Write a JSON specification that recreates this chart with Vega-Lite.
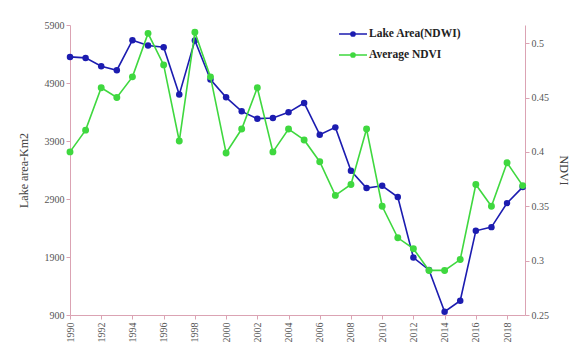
{
  "$schema": "https://vega.github.io/schema/vega-lite/v6.json",
  "width": 455,
  "height": 290,
  "autosize": "none",
  "padding": {"left": 70, "top": 25, "right": 45, "bottom": 37},
  "background": "white",
  "config": {
    "view": {"stroke": null},
    "font": "Liberation Serif",
    "axis": {
      "domainColor": "#dba3b3",
      "tickColor": "#dba3b3",
      "grid": false,
      "labelFont": "Liberation Serif",
      "labelFontSize": 10,
      "labelColor": "#555555",
      "titleFont": "Liberation Serif",
      "titleFontWeight": "normal",
      "titleColor": "#444444",
      "titleFontSize": 12,
      "tickSize": 4
    },
    "legend": {
      "orient": "none",
      "legendX": 268,
      "legendY": -6,
      "labelFont": "Liberation Serif",
      "labelFontWeight": "bold",
      "labelFontSize": 11.5,
      "labelColor": "#222222",
      "rowPadding": -9,
      "symbolSize": 784,
      "symbolStrokeWidth": 1.5,
      "labelOffset": 1,
      "symbolType": "M -1 0 L 1 0 M 0.15 0 A 0.15 0.15 0 1 1 -0.15 0 A 0.15 0.15 0 1 1 0.15 0 Z"
    }
  },
  "data": {
    "values": [
      {"year": 1990, "area": 5350, "ndvi": 0.400},
      {"year": 1991, "area": 5333, "ndvi": 0.420},
      {"year": 1992, "area": 5189, "ndvi": 0.459},
      {"year": 1993, "area": 5120, "ndvi": 0.450},
      {"year": 1994, "area": 5638, "ndvi": 0.469},
      {"year": 1995, "area": 5546, "ndvi": 0.509},
      {"year": 1996, "area": 5517, "ndvi": 0.480},
      {"year": 1997, "area": 4700, "ndvi": 0.410},
      {"year": 1998, "area": 5632, "ndvi": 0.510},
      {"year": 1999, "area": 4960, "ndvi": 0.469},
      {"year": 2000, "area": 4653, "ndvi": 0.399},
      {"year": 2001, "area": 4411, "ndvi": 0.421},
      {"year": 2002, "area": 4285, "ndvi": 0.459},
      {"year": 2003, "area": 4297, "ndvi": 0.400},
      {"year": 2004, "area": 4394, "ndvi": 0.421},
      {"year": 2005, "area": 4556, "ndvi": 0.411},
      {"year": 2006, "area": 4009, "ndvi": 0.391},
      {"year": 2007, "area": 4135, "ndvi": 0.360},
      {"year": 2008, "area": 3387, "ndvi": 0.370},
      {"year": 2009, "area": 3088, "ndvi": 0.421},
      {"year": 2010, "area": 3128, "ndvi": 0.350},
      {"year": 2011, "area": 2933, "ndvi": 0.321},
      {"year": 2012, "area": 1890, "ndvi": 0.311},
      {"year": 2013, "area": 1677, "ndvi": 0.291},
      {"year": 2014, "area": 957, "ndvi": 0.291},
      {"year": 2015, "area": 1147, "ndvi": 0.301},
      {"year": 2016, "area": 2351, "ndvi": 0.370},
      {"year": 2017, "area": 2415, "ndvi": 0.350},
      {"year": 2018, "area": 2829, "ndvi": 0.390},
      {"year": 2019, "area": 3105, "ndvi": 0.369}
    ]
  },
  "encoding": {
    "x": {
      "field": "year",
      "type": "quantitative",
      "scale": {"domain": [1990, 2019.15], "nice": false, "zero": false},
      "axis": {
        "values": [1990, 1992, 1994, 1996, 1998, 2000, 2002, 2004, 2006, 2008, 2010, 2012, 2014, 2016, 2018],
        "format": "d",
        "labelAngle": 270,
        "labelAlign": "right",
        "labelBaseline": "middle",
        "title": null,
        "labelPadding": 3
      }
    }
  },
  "layer": [
    {
      "encoding": {
        "y": {
          "field": "area",
          "type": "quantitative",
          "scale": {"domain": [900, 5900], "nice": false, "zero": false},
          "axis": {
            "orient": "left",
            "values": [900, 1900, 2900, 3900, 4900, 5900],
            "format": "d",
            "title": "Lake area-Km2",
            "titlePadding": 14
          }
        },
        "color": {
          "datum": "Lake Area(NDWI)",
          "type": "nominal",
          "scale": {"domain": ["Lake Area(NDWI)", "Average NDVI"], "range": ["#1c1cb0", "#3fd83f"]},
          "legend": {
            "title": null,
            "encode": {"symbols": {"update": {"stroke": {"scale": "color", "field": "value"}, "fill": {"scale": "color", "field": "value"}}}}
          }
        }
      },
      "layer": [
        {"mark": {"type": "line", "strokeWidth": 1.6, "color": "#3030c0"}},
        {"mark": {"type": "point", "filled": true, "size": 42, "opacity": 1}}
      ]
    },
    {
      "encoding": {
        "y": {
          "field": "ndvi",
          "type": "quantitative",
          "scale": {"domain": [0.25, 0.5167], "nice": false, "zero": false},
          "axis": {
            "orient": "right",
            "values": [0.25, 0.3, 0.35, 0.4, 0.45, 0.5],
            "format": ".2~f",
            "title": "NDVI",
            "titlePadding": 8
          }
        },
        "color": {"datum": "Average NDVI", "type": "nominal"}
      },
      "layer": [
        {"mark": {"type": "line", "strokeWidth": 1.6, "color": "#45d045"}},
        {"mark": {"type": "point", "filled": true, "size": 48, "opacity": 1}}
      ]
    }
  ],
  "resolve": {"scale": {"y": "independent"}}
}
